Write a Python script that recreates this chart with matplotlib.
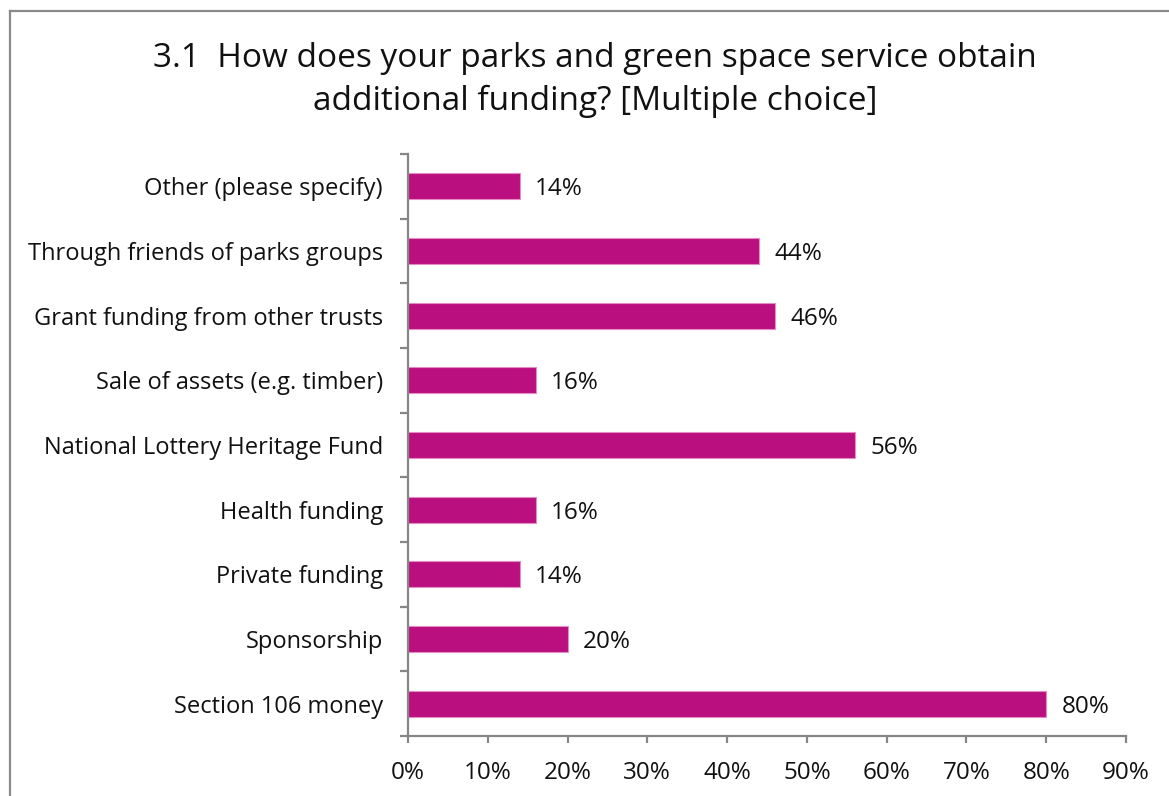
import matplotlib
matplotlib.use("Agg")
import matplotlib.pyplot as plt
from matplotlib.lines import Line2D
from matplotlib.ticker import FixedLocator, PercentFormatter

categories = [
    "Section 106 money",
    "Sponsorship",
    "Private funding",
    "Health funding",
    "National Lottery Heritage Fund",
    "Sale of assets (e.g. timber)",
    "Grant funding from other trusts",
    "Through friends of parks groups",
    "Other (please specify)",
]
values = [80, 20, 14, 16, 56, 16, 46, 44, 14]
x_ticks = [0, 10, 20, 30, 40, 50, 60, 70, 80, 90]
title = "3.1  How does your parks and green space service obtain\nadditional funding? [Multiple choice]"

plt.rcParams["font.family"] = ["Open Sans", "DejaVu Sans"]

W, H = 1169, 796
fig = plt.figure(figsize=(W / 100, H / 100), dpi=100)

# chart frame: left and top edges only
frame_col = "#8a8a8a"
fig.add_artist(Line2D([10 / W, 10 / W], [0, 1 - 11 / H], transform=fig.transFigure,
                      color=frame_col, lw=1.6))
fig.add_artist(Line2D([10 / W, 1], [1 - 11 / H, 1 - 11 / H], transform=fig.transFigure,
                      color=frame_col, lw=1.6))

left, right, top, bottom = 408, 1126, 154, 736
ax = fig.add_axes([left / W, 1 - bottom / H, (right - left) / W, (bottom - top) / H])

pos = list(range(len(categories)))
bars = ax.barh(pos, values, height=0.4, color="#BA0F7E", edgecolor="#E58CC2", linewidth=0.8)

for p, v in zip(pos, values):
    ax.annotate(f"{v}%", xy=(v, p), xytext=(11, 0), textcoords="offset points",
                va="center_baseline", ha="left", fontsize=17.5, color="#111111")

ax.set_xlim(0, 90)
ax.set_ylim(-0.5, len(categories) - 0.5)
ax.xaxis.set_major_locator(FixedLocator(x_ticks))
ax.xaxis.set_major_formatter(PercentFormatter(decimals=0))

ax.set_yticks(pos)
ax.set_yticklabels(categories)
ax.yaxis.set_minor_locator(FixedLocator([p - 0.5 for p in pos] + [len(pos) - 0.5]))
for lbl in ax.get_yticklabels():
    lbl.set_verticalalignment("center_baseline")

axis_col = "#868686"
for s in ("top", "right"):
    ax.spines[s].set_visible(False)
for s in ("left", "bottom"):
    ax.spines[s].set_color(axis_col)
    ax.spines[s].set_linewidth(1.6)

ax.tick_params(axis="y", which="major", length=0, pad=18, labelsize=17, labelcolor="#111111")
ax.tick_params(axis="y", which="minor", length=5.5, width=1.6, color=axis_col)
ax.tick_params(axis="x", which="major", length=5, width=1.6, color=axis_col,
               pad=13, labelsize=17.5, labelcolor="#111111")

fig.text(595 / W, 1 - 80 / H, title, ha="center", va="center", fontsize=24,
         color="#111111", linespacing=1.4)

fig.savefig("out.png", dpi=100)
